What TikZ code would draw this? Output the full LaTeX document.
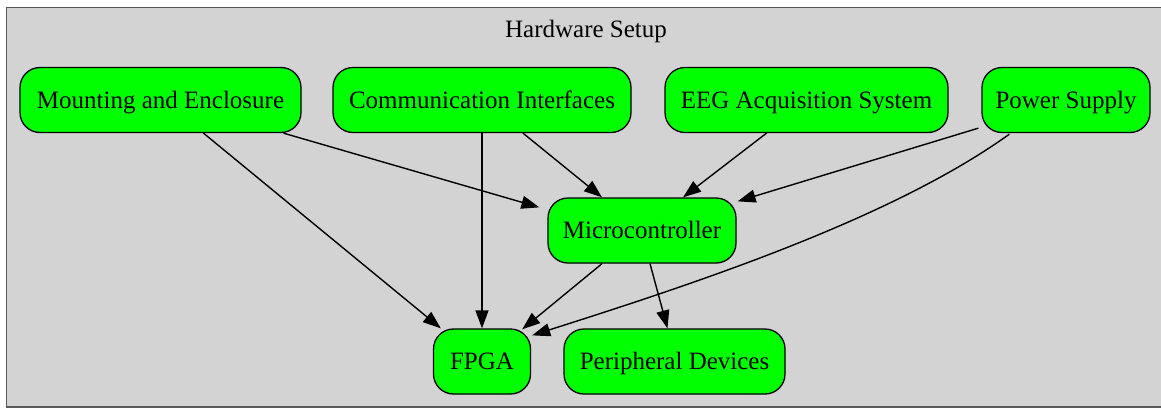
\documentclass[tikz,border=0pt]{standalone}
\usepackage{fontspec}
\setmainfont{Liberation Serif}
\usetikzlibrary{arrows.meta,calc}
\definecolor{clustergray}{RGB}{211,211,211}
\definecolor{boxgreen}{RGB}{0,255,0}
\begin{document}
\begin{tikzpicture}[x=1pt, y=-1pt,
    label font/.style={font=\fontsize{25}{30}\selectfont, text height=21pt, text depth=5pt},
    hwbox/.style={label font, draw=black, fill=boxgreen, line width=1.3pt, rounded corners=20pt,
      minimum height=65pt, inner sep=0pt},
    link/.style={draw=black, line width=1.4pt, -{Triangle[length=18pt,width=13pt]}}]
  \clip (0,0) rectangle (1161,408);
  \fill[white] (0,0) rectangle (1161,408);
  \draw[fill=clustergray, draw=black!65, line width=1.5pt] (6.5,7.5) rectangle (1175,407);
  \node[label font, inner sep=0pt] (title) at (586,29) {Hardware Setup};

  % top row
  \node[hwbox, minimum width=281pt] (mount) at (160.5,100) {Mounting and Enclosure};
  \node[hwbox, minimum width=298pt] (comm) at (482,100) {Communication Interfaces};
  \node[hwbox, minimum width=283pt] (eeg) at (806.5,100) {EEG Acquisition System};
  \node[hwbox, minimum width=168pt] (power) at (1066,100) {Power Supply};
  % middle and bottom
  \node[hwbox, minimum width=188pt] (micro) at (642,230.5) {Microcontroller};
  \node[hwbox, minimum width=97pt] (fpga) at (482,361.5) {FPGA};
  \node[hwbox, minimum width=221pt] (periph) at (674.5,361.5) {Peripheral Devices};

  % edges
  \draw[link] ($(mount.south)+(123,0)$) -- ($(micro.north west)+(-8,10)$);
  \draw[link] ($(mount.south)+(43,0)$) -- ($(fpga.north west)+(8,0)$);
  \draw[link] (comm.south) -- (fpga.north);
  \draw[link] ($(comm.south)+(41,0)$) -- ($(micro.north)+(-40,0)$);
  \draw[link] ($(eeg.south)+(-40,0)$) -- ($(micro.north)+(41,0)$);
  \draw[link] ($(power.south west)+(-3,-5)$) -- ($(micro.north east)+(1,4)$);
  \draw[link] ($(power.south west)+(28,1)$) .. controls (890,220) and (690,285) .. ($(fpga.north east)+(1,7)$);
  \draw[link] ($(micro.south)+(-40,0)$) -- ($(fpga.north east)+(-9,1)$);
  \draw[link] ($(micro.south)+(8,0)$) -- ($(periph.north)+(-7,0)$);
\end{tikzpicture}
\end{document}
